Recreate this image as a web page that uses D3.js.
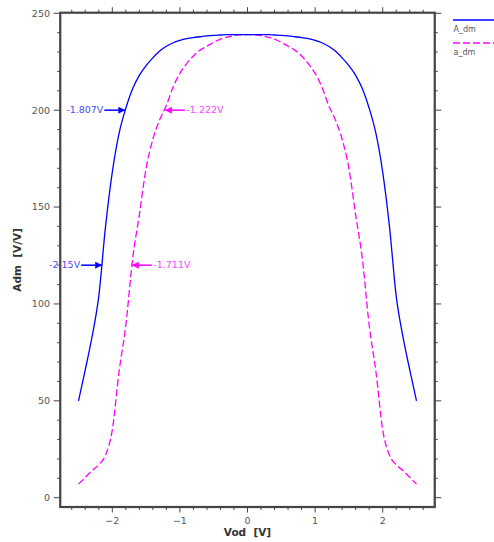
<!DOCTYPE html>
<html><head><meta charset="utf-8">
<script src="https://cdn.jsdelivr.net/npm/d3@7"></script>
<style>
html,body{margin:0;padding:0;background:#fff;}
svg{display:block;}
text{font-family:"DejaVu Sans",Verdana,sans-serif;}
</style></head>
<body>
<svg id="c" width="494" height="542"></svg>
<script>
// ---- data ----
const vod = [-2.5,-2.4,-2.3,-2.2,-2.1,-2.0,-1.9,-1.8,-1.7,-1.6,-1.5,-1.4,-1.3,-1.2,-1.1,-1.0,-0.9,-0.8,-0.7,-0.6,-0.5,-0.4,-0.3,-0.2,-0.1,0,
  0.1,0.2,0.3,0.4,0.5,0.6,0.7,0.8,0.9,1.0,1.1,1.2,1.3,1.4,1.5,1.6,1.7,1.8,1.9,2.0,2.1,2.2,2.3,2.4,2.5];
const A_dm = [50,66,83,104,140,168,188,201,211,218,223,227,230.5,233,234.8,236,236.9,237.5,237.9,238.3,238.6,238.8,239,239,239,239,
  239,239,239,238.8,238.6,238.3,237.9,237.5,236.9,236,234.8,233,230.5,227,223,218,211,201,188,168,140,104,83,66,50];
const a_dm = [7,10.5,14,17,22,35,65,89,123,146,170,185,195,202.5,212,219,224,228,231,233,235,236.7,237.7,238.5,238.9,239,
  238.9,238.5,237.7,236.7,235,233,231,228,224,219,212,202.5,195,185,170,146,123,89,65,35,22,17,14,10.5,7];
const seriesNames = ["A_dm","a_dm"];
const xTicks = [-2,-1,0,1,2];
const yTicks = [0,50,100,150,200,250];
const annoA = [{v:-1.807, y:200, label:"-1.807V"},{v:-2.15, y:120, label:"-2.15V"}];
const annoa = [{v:-1.222, y:200, label:"-1.222V"},{v:-1.711, y:120, label:"-1.711V"}];

const svg = d3.select("#c");
const x = d3.scaleLinear().domain([-2,2]).range([112.3,382.7]);
const y = d3.scaleLinear().domain([0,250]).range([497.7,13.3]);
const L = x(-2.77), R = x(2.77), T = y(250.3), B = y(-4.8);

const blue = "#0000ff", mag = "#ff00ff";
const axisCol = "#444";

// defs arrowheads
const defs = svg.append("defs");
function marker(id,col){
  defs.append("marker").attr("id",id).attr("viewBox","0 0 10 10").attr("refX",10).attr("refY",5)
    .attr("markerWidth",7).attr("markerHeight",7).attr("markerUnits","userSpaceOnUse").attr("orient","auto")
    .append("path").attr("d","M0,0L10,5L0,10z").attr("fill",col);
}
marker("ab",blue); marker("am",mag);

// ticks
const g = svg.append("g");
const xMinor = d3.range(-26,27,2).map(d=>d/10);
const yMinor = d3.range(0,251,10);
xMinor.forEach(v=>{
  const major = xTicks.includes(v);
  const len = major?5.5:3;
  g.append("line").attr("x1",x(v)).attr("x2",x(v)).attr("y1",B).attr("y2",B+len).attr("stroke",axisCol).attr("stroke-width",1);
  g.append("line").attr("x1",x(v)).attr("x2",x(v)).attr("y1",T).attr("y2",T-len).attr("stroke",axisCol).attr("stroke-width",1);
});
yMinor.forEach(v=>{
  const major = yTicks.includes(v);
  const len = major?6.5:3;
  g.append("line").attr("y1",y(v)).attr("y2",y(v)).attr("x1",L).attr("x2",L-len).attr("stroke",axisCol).attr("stroke-width",1);
  g.append("line").attr("y1",y(v)).attr("y2",y(v)).attr("x1",R).attr("x2",R+len).attr("stroke",axisCol).attr("stroke-width",1);
});
xTicks.forEach(v=>{
  g.append("text").attr("x",x(v)).attr("y",523.5).attr("text-anchor","middle").attr("font-size","9.5px").attr("fill","#555").text(d3.format("d")(v));
});
yTicks.forEach(v=>{
  g.append("text").attr("x",50).attr("y",y(v)+3.4).attr("text-anchor","end").attr("font-size","9.5px").attr("fill","#555").text(v);
});

// frame
svg.append("rect").attr("x",L).attr("y",T).attr("width",R-L).attr("height",B-T)
  .attr("fill","none").attr("stroke",axisCol).attr("stroke-width",2.2);

// titles
svg.append("text").attr("x",(L+R)/2).attr("y",536).attr("text-anchor","middle").attr("font-size","10.5px")
  .attr("font-weight","bold").attr("fill","#333").style("white-space","pre").text("Vod  [V]");
svg.append("text").attr("transform",`translate(20.5,${(T+B)/2}) rotate(-90)`).attr("text-anchor","middle")
  .attr("font-size","10.5px").attr("font-weight","bold").attr("fill","#333").style("white-space","pre").text("Adm  [V/V]");

// curves
const line = d3.line().x((d,i)=>x(vod[i])).y(d=>y(d)).curve(d3.curveMonotoneX);
svg.append("path").datum(a_dm).attr("d",line).attr("fill","none").attr("stroke",mag).attr("stroke-width",1.3).attr("stroke-dasharray","7,3");
svg.append("path").datum(A_dm).attr("d",line).attr("fill","none").attr("stroke",blue).attr("stroke-width",1.3);

// annotations
annoA.forEach(a=>{
  svg.append("line").attr("x1",x(a.v)-21).attr("x2",x(a.v)).attr("y1",y(a.y)).attr("y2",y(a.y))
    .attr("stroke",blue).attr("stroke-width",1.5).attr("marker-end","url(#ab)");
  svg.append("text").attr("x",x(a.v)-22).attr("y",y(a.y)+3.3).attr("text-anchor","end").attr("font-size","9.5px")
    .attr("fill","#4a4aff").text(a.label);
});
annoa.forEach(a=>{
  svg.append("line").attr("x1",x(a.v)+20).attr("x2",x(a.v)).attr("y1",y(a.y)).attr("y2",y(a.y))
    .attr("stroke",mag).attr("stroke-width",1.5).attr("marker-end","url(#am)");
  svg.append("text").attr("x",x(a.v)+21.5).attr("y",y(a.y)+3.3).attr("text-anchor","start").attr("font-size","9.5px")
    .attr("fill","#ff44ff").text(a.label);
});

// legend
const lg = svg.append("g");
const cols = [blue, mag];
seriesNames.forEach((n,i)=>{
  const ly = 20 + i*23;
  lg.append("line").attr("x1",453).attr("x2",494).attr("y1",ly).attr("y2",ly).attr("stroke",cols[i])
    .attr("stroke-width",1.6).attr("stroke-dasharray",i?"7,3":null);
  lg.append("text").attr("x",453.5).attr("y",ly+11.5).attr("font-size","8px").attr("fill","#555").text(n);
});
</script>
</body></html>
